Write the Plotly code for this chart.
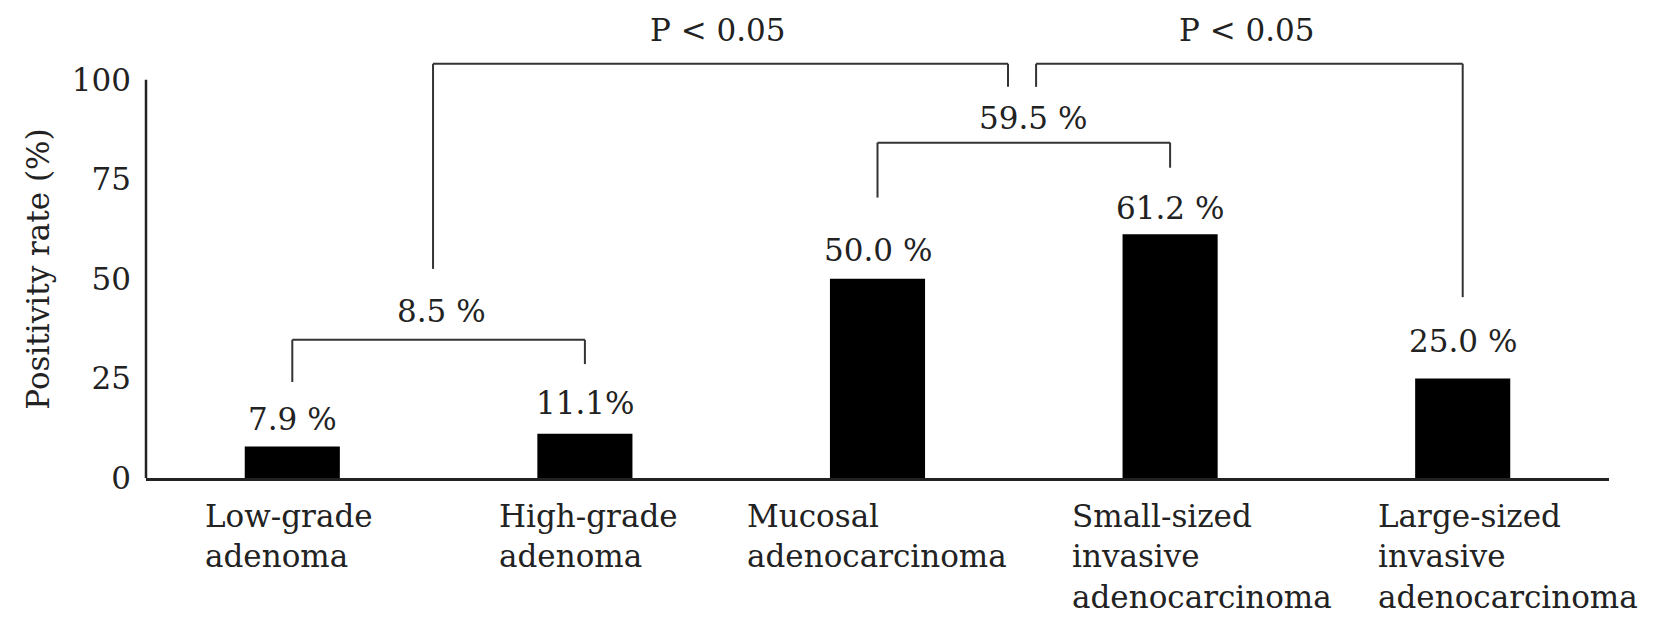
import plotly.graph_objects as go

# ---- data ----
categories = ["Low-grade adenoma", "High-grade adenoma", "Mucosal adenocarcinoma",
              "Small-sized invasive adenocarcinoma", "Large-sized invasive adenocarcinoma"]
category_lines = [["Low-grade", "adenoma"], ["High-grade", "adenoma"],
                  ["Mucosal", "adenocarcinoma"],
                  ["Small-sized", "invasive", "adenocarcinoma"],
                  ["Large-sized", "invasive", "adenocarcinoma"]]
values = [7.9, 11.1, 50.0, 61.2, 25.0]
value_labels = ["7.9 %", "11.1%", "50.0 %", "61.2 %", "25.0 %"]
y_ticks = [0, 25, 50, 75, 100]
y_title = "Positivity rate (%)"

# comparison brackets: (left category, right category, label)
comparisons = [
    (0, 1, "8.5 %"),
    (2, 3, "59.5 %"),
]
p_label = "P < 0.05"

# ---- layout constants (positions / styles) ----
FONT = "DejaVu Serif"
FS = 31
LINE = "#333333"
label_left_offset = [-0.305, -0.300, -0.453, -0.342, -0.296]
label_gap_px = [28, 31, 29, 26, 37]

fig = go.Figure()
fig.add_trace(go.Bar(x=list(range(len(values))), y=values, width=0.325,
                     marker=dict(color="black", line=dict(width=0)),
                     hoverinfo="skip", showlegend=False))

shapes = []
annotations = []

def seg(x0, y0, x1, y1):
    shapes.append(dict(type="line", xref="x", yref="y", x0=x0, y0=y0, x1=x1, y1=y1,
                       line=dict(color=LINE, width=2)))

# small brackets: geometry (left leg bottom, top, right leg bottom, label x, label y)
small_geom = [
    (24.1, 34.7, 28.6, 0.51, 42.0),
    (70.4, 84.2, 77.9, 2.53, 90.5),
]
for (a, b, lab), (yl, yt, yr, lx, ly) in zip(comparisons, small_geom):
    seg(a, yl, a, yt)
    seg(a, yt, b, yt)
    seg(b, yt, b, yr)
    annotations.append(dict(x=lx, y=ly, xref="x", yref="y", text=lab, showarrow=False,
                            font=dict(family=FONT, size=FS, color="#222")))

# big P brackets
top_y = 104.0
inner_bottom = 98.2
seg(0.481, 52.5, 0.481, top_y)
seg(0.481, top_y, 2.446, top_y)
seg(2.446, top_y, 2.446, inner_bottom)
seg(2.542, inner_bottom, 2.542, top_y)
seg(2.542, top_y, 4.0, top_y)
seg(4.0, top_y, 4.0, 45.4)
for px in (1.455, 3.263):
    annotations.append(dict(x=px, y=112.5, xref="x", yref="y", text=p_label, showarrow=False,
                            font=dict(family=FONT, size=FS, color="#222")))

# value labels
for i, (v, t) in enumerate(zip(values, value_labels)):
    annotations.append(dict(x=i, y=v, xref="x", yref="y", text=t, showarrow=False,
                            yanchor="middle", yshift=label_gap_px[i],
                            font=dict(family=FONT, size=FS, color="#222")))

# category labels (left aligned)
for i, lines in enumerate(category_lines):
    annotations.append(dict(x=i + label_left_offset[i], y=0, xref="x", yref="y",
                            text="<br>".join(lines), showarrow=False, xanchor="left",
                            yanchor="top", align="left", yshift=-18,
                            font=dict(family=FONT, size=FS, color="#222")))

# y title
annotations.append(dict(x=-0.0738, y=52.3, xref="paper", yref="y", text=y_title,
                        textangle=-90, showarrow=False, xanchor="center", yanchor="middle",
                        font=dict(family=FONT, size=FS, color="#222")))

# y axis line (only up to 100)
shapes.append(dict(type="line", xref="paper", yref="y", x0=0, x1=0, y0=0, y1=100,
                   line=dict(color="#222", width=2.5)))

fig.update_layout(
    width=1654, height=624,
    margin=dict(l=138, r=53, t=0, b=154),
    paper_bgcolor="white", plot_bgcolor="white",
    shapes=shapes, annotations=annotations,
    xaxis=dict(range=[-0.5, 4.5], showticklabels=False, ticks="", showgrid=False,
               zeroline=False, showline=True, linecolor="#222", linewidth=2.5),
    yaxis=dict(range=[0, 118], tickvals=y_ticks, ticktext=[str(t) for t in y_ticks],
               ticks="", showgrid=False, zeroline=False, showline=False,
               ticklabelstandoff=14,
               tickfont=dict(family=FONT, size=FS, color="#222")),
    showlegend=False,
)

fig.write_html("out.html")
